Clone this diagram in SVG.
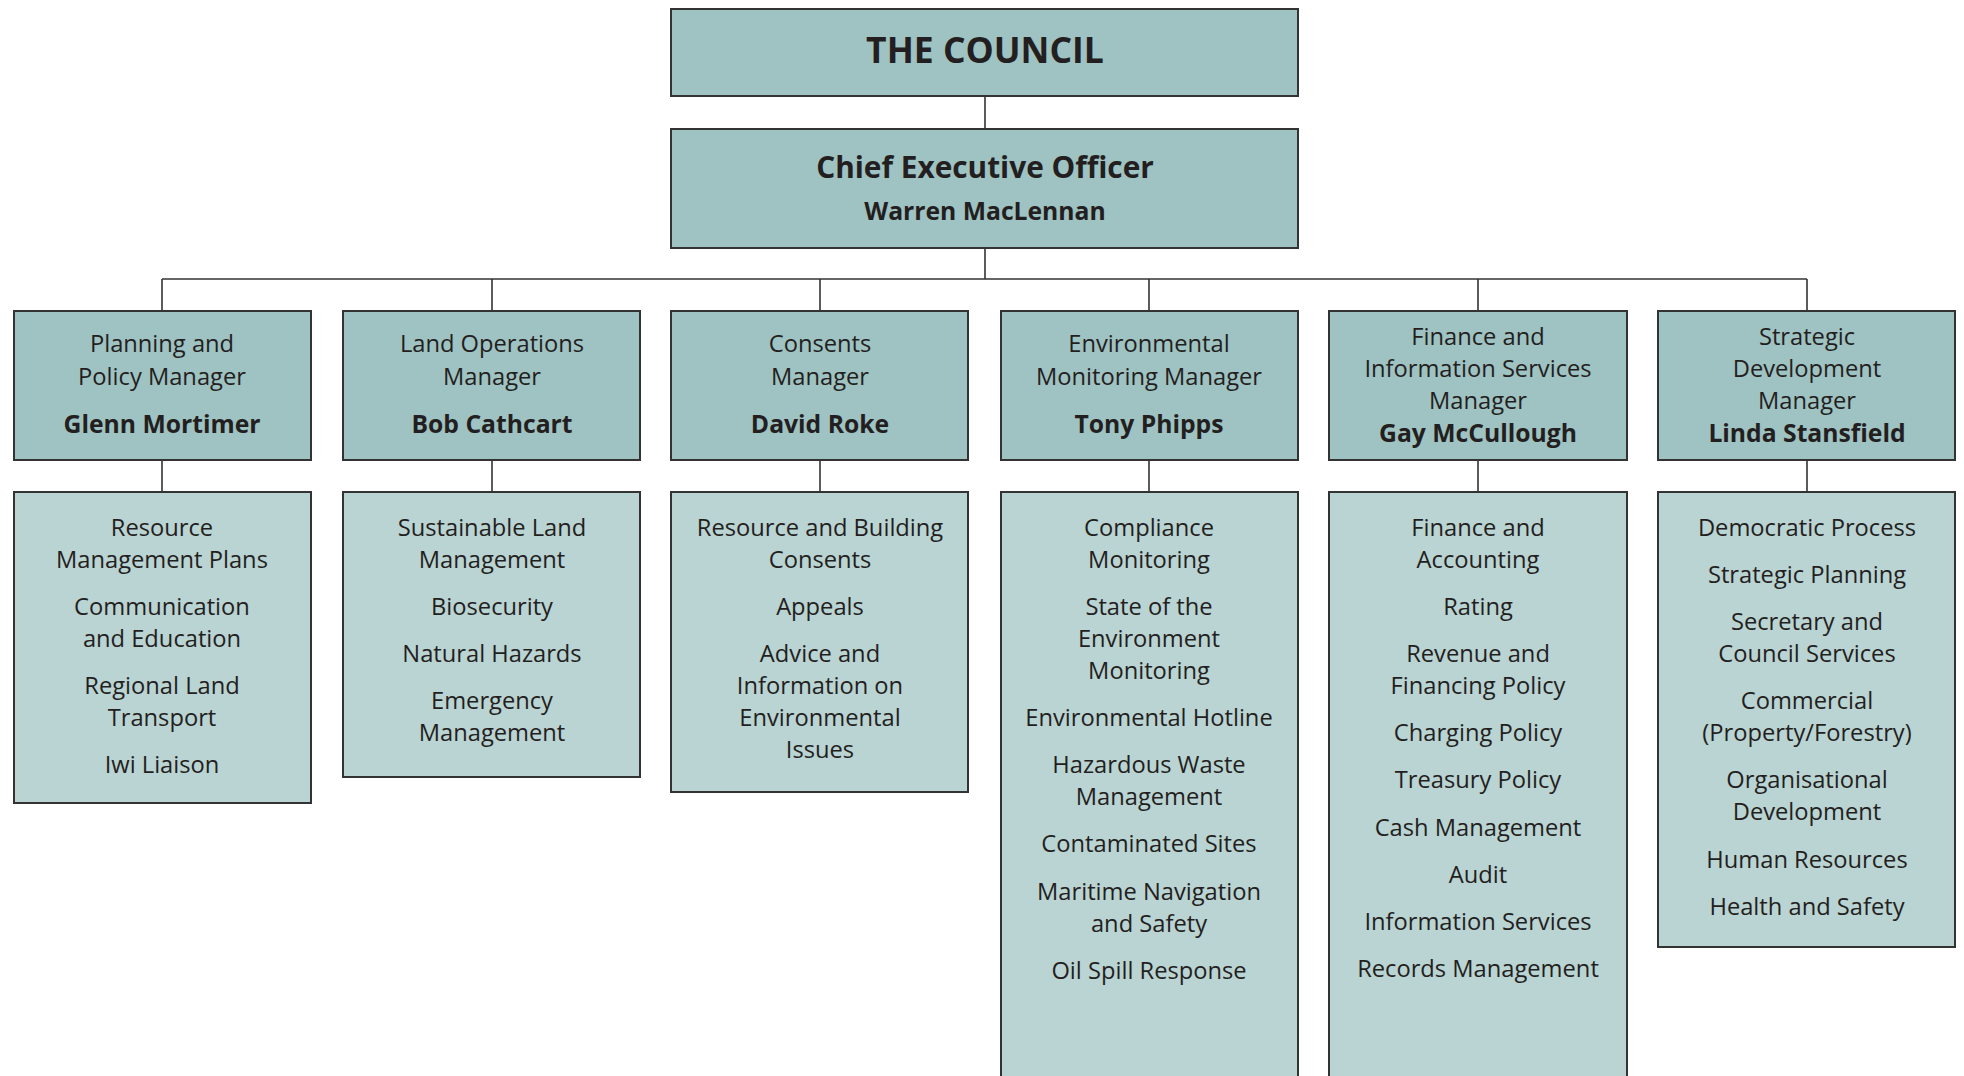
<svg xmlns="http://www.w3.org/2000/svg" width="1964" height="1076" viewBox="0 0 1964 1076">
<style>
  .top { fill: #9fc2c2; stroke: #333; stroke-width: 2; }
  .mgr { fill: #9fc2c2; stroke: #333; stroke-width: 2; }
  .sub { fill: #bad3d3; stroke: #333; stroke-width: 2; }
  .conn line { stroke: #333; stroke-width: 1.6; }
  text { font-family: "Open Sans", "Noto Sans", sans-serif; fill: #231f20; text-anchor: middle; dominant-baseline: central; }
  .t { font-size: 23.7px; }
  .b { font-size: 24.7px; font-weight: bold; }
  .title { font-size: 35.5px; font-weight: bold; }
  .ceo { font-size: 29.8px; font-weight: bold; }
</style>
<rect width="1964" height="1076" fill="#fff"/>
<g id="connectors" class="conn">
  <line x1="985" y1="96" x2="985" y2="129"/>
  <line x1="985" y1="248" x2="985" y2="279"/>
  <line x1="162" y1="279" x2="1807" y2="279"/>
  <line x1="162" y1="279" x2="162" y2="311"/>
  <line x1="492" y1="279" x2="492" y2="311"/>
  <line x1="820" y1="279" x2="820" y2="311"/>
  <line x1="1149" y1="279" x2="1149" y2="311"/>
  <line x1="1478" y1="279" x2="1478" y2="311"/>
  <line x1="1807" y1="279" x2="1807" y2="311"/>
  <line x1="162" y1="460" x2="162" y2="492"/>
  <line x1="492" y1="460" x2="492" y2="492"/>
  <line x1="820" y1="460" x2="820" y2="492"/>
  <line x1="1149" y1="460" x2="1149" y2="492"/>
  <line x1="1478" y1="460" x2="1478" y2="492"/>
  <line x1="1807" y1="460" x2="1807" y2="492"/>
</g>
<g id="council">
  <rect class="top" x="671" y="9" width="627" height="87"/>
  <text class="title" x="985" y="49">THE COUNCIL</text>
</g>
<g id="ceo">
  <rect class="top" x="671" y="129" width="627" height="119"/>
  <text class="ceo" x="985" y="166">Chief Executive Officer</text>
  <text class="b" x="985" y="210">Warren MacLennan</text>
</g>
<g id="mgr-planning">
  <rect class="mgr" x="14" y="311" width="297" height="149"/>
  <text class="t" x="162" y="343">Planning and</text>
  <text class="t" x="162" y="376">Policy Manager</text>
  <text class="b" x="162" y="423">Glenn Mortimer</text>
</g>
<g id="mgr-land">
  <rect class="mgr" x="343" y="311" width="297" height="149"/>
  <text class="t" x="492" y="343">Land Operations</text>
  <text class="t" x="492" y="376">Manager</text>
  <text class="b" x="492" y="423">Bob Cathcart</text>
</g>
<g id="mgr-consents">
  <rect class="mgr" x="671" y="311" width="297" height="149"/>
  <text class="t" x="820" y="343">Consents</text>
  <text class="t" x="820" y="376">Manager</text>
  <text class="b" x="820" y="423">David Roke</text>
</g>
<g id="mgr-env">
  <rect class="mgr" x="1001" y="311" width="297" height="149"/>
  <text class="t" x="1149" y="343">Environmental</text>
  <text class="t" x="1149" y="376">Monitoring Manager</text>
  <text class="b" x="1149" y="423">Tony Phipps</text>
</g>
<g id="mgr-finance">
  <rect class="mgr" x="1329" y="311" width="298" height="149"/>
  <text class="t" x="1478" y="336">Finance and</text>
  <text class="t" x="1478" y="368">Information Services</text>
  <text class="t" x="1478" y="400">Manager</text>
  <text class="b" x="1478" y="432">Gay McCullough</text>
</g>
<g id="mgr-strategic">
  <rect class="mgr" x="1658" y="311" width="297" height="149"/>
  <text class="t" x="1807" y="336">Strategic</text>
  <text class="t" x="1807" y="368">Development</text>
  <text class="t" x="1807" y="400">Manager</text>
  <text class="b" x="1807" y="432">Linda Stansfield</text>
</g>
<g id="sub-planning">
  <rect class="sub" x="14" y="492" width="297" height="311"/>
  <text class="t" x="162" y="527">Resource</text>
  <text class="t" x="162" y="559">Management Plans</text>
  <text class="t" x="162" y="606">Communication</text>
  <text class="t" x="162" y="638">and Education</text>
  <text class="t" x="162" y="685">Regional Land</text>
  <text class="t" x="162" y="717">Transport</text>
  <text class="t" x="162" y="764">Iwi Liaison</text>
</g>
<g id="sub-land">
  <rect class="sub" x="343" y="492" width="297" height="285"/>
  <text class="t" x="492" y="527">Sustainable Land</text>
  <text class="t" x="492" y="559">Management</text>
  <text class="t" x="492" y="606">Biosecurity</text>
  <text class="t" x="492" y="653">Natural Hazards</text>
  <text class="t" x="492" y="700">Emergency</text>
  <text class="t" x="492" y="732">Management</text>
</g>
<g id="sub-consents">
  <rect class="sub" x="671" y="492" width="297" height="300"/>
  <text class="t" x="820" y="527">Resource and Building</text>
  <text class="t" x="820" y="559">Consents</text>
  <text class="t" x="820" y="606">Appeals</text>
  <text class="t" x="820" y="653">Advice and</text>
  <text class="t" x="820" y="685">Information on</text>
  <text class="t" x="820" y="717">Environmental</text>
  <text class="t" x="820" y="749">Issues</text>
</g>
<g id="sub-env">
  <rect class="sub" x="1001" y="492" width="297" height="600"/>
  <text class="t" x="1149" y="527">Compliance</text>
  <text class="t" x="1149" y="559">Monitoring</text>
  <text class="t" x="1149" y="606">State of the</text>
  <text class="t" x="1149" y="638">Environment</text>
  <text class="t" x="1149" y="670">Monitoring</text>
  <text class="t" x="1149" y="717">Environmental Hotline</text>
  <text class="t" x="1149" y="764">Hazardous Waste</text>
  <text class="t" x="1149" y="796">Management</text>
  <text class="t" x="1149" y="843">Contaminated Sites</text>
  <text class="t" x="1149" y="891">Maritime Navigation</text>
  <text class="t" x="1149" y="923">and Safety</text>
  <text class="t" x="1149" y="970">Oil Spill Response</text>
</g>
<g id="sub-finance">
  <rect class="sub" x="1329" y="492" width="298" height="600"/>
  <text class="t" x="1478" y="527">Finance and</text>
  <text class="t" x="1478" y="559">Accounting</text>
  <text class="t" x="1478" y="606">Rating</text>
  <text class="t" x="1478" y="653">Revenue and</text>
  <text class="t" x="1478" y="685">Financing Policy</text>
  <text class="t" x="1478" y="732">Charging Policy</text>
  <text class="t" x="1478" y="779">Treasury Policy</text>
  <text class="t" x="1478" y="827">Cash Management</text>
  <text class="t" x="1478" y="874">Audit</text>
  <text class="t" x="1478" y="921">Information Services</text>
  <text class="t" x="1478" y="968">Records Management</text>
</g>
<g id="sub-strategic">
  <rect class="sub" x="1658" y="492" width="297" height="455"/>
  <text class="t" x="1807" y="527">Democratic Process</text>
  <text class="t" x="1807" y="574">Strategic Planning</text>
  <text class="t" x="1807" y="621">Secretary and</text>
  <text class="t" x="1807" y="653">Council Services</text>
  <text class="t" x="1807" y="700">Commercial</text>
  <text class="t" x="1807" y="732">(Property/Forestry)</text>
  <text class="t" x="1807" y="779">Organisational</text>
  <text class="t" x="1807" y="811">Development</text>
  <text class="t" x="1807" y="859">Human Resources</text>
  <text class="t" x="1807" y="906">Health and Safety</text>
</g>
</svg>
